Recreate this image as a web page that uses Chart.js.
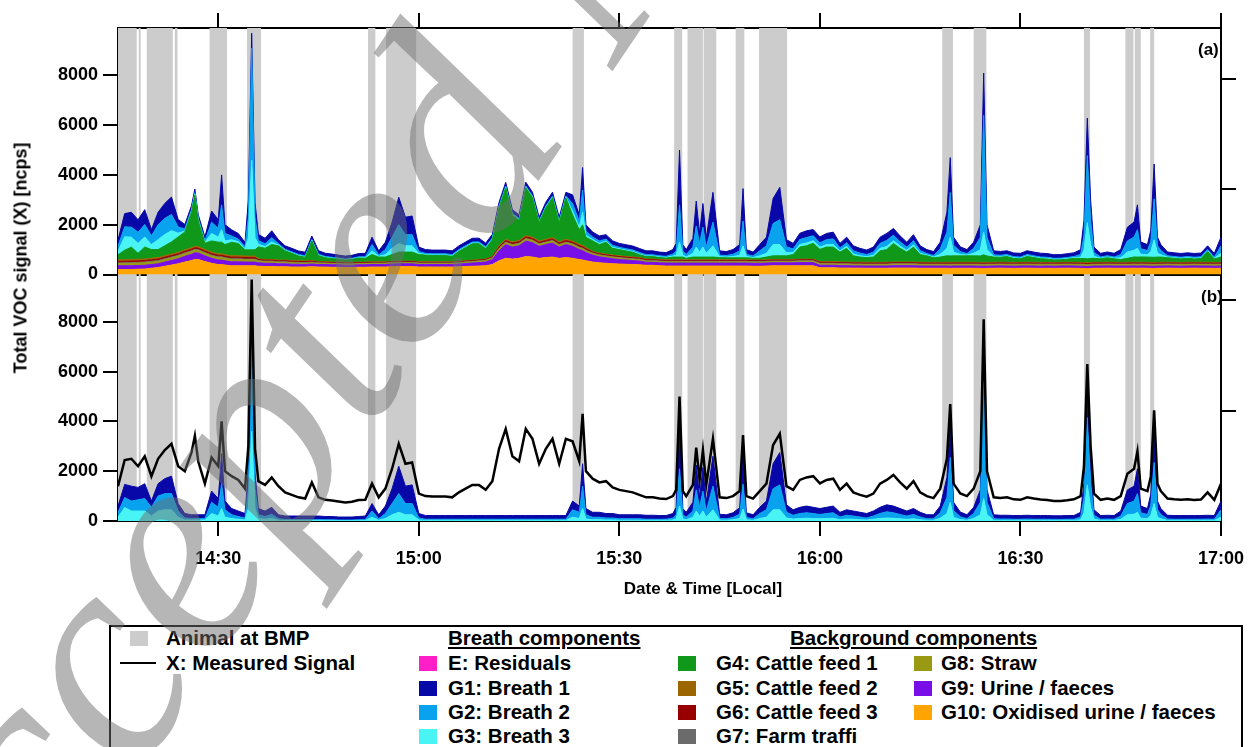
<!DOCTYPE html>
<html>
<head>
<meta charset="utf-8">
<title>Total VOC signal – breath and background components</title>
<script src="https://cdn.jsdelivr.net/npm/chart.js"></script>
<style>
  html, body { margin: 0; padding: 0; background: #fff; }
  body {
    position: relative; width: 1256px; height: 747px; overflow: hidden;
    font-family: "Liberation Sans", Arial, Helvetica, sans-serif; font-weight: bold; color: #000;
  }
  #plot { position: absolute; left: 0; top: 0; }
  .txt { position: absolute; white-space: nowrap; }
  #ytitle { left: 21px; top: 258px; font-size: 18px; transform: translate(-50%, -50%) rotate(-90deg); }
  #xtitle { left: 703px; top: 589px; font-size: 17px; transform: translate(-50%, -50%); }
  .tag { font-size: 17px; line-height: 17px; }
  #legend { position: absolute; left: 109px; top: 625px; width: 1134px; height: 170px; border: 2px solid #000; box-sizing: border-box; }
  .lg { position: absolute; font-size: 20.5px; line-height: 24px; white-space: nowrap; }
  .head { text-decoration: underline; }
  .sw { position: absolute; width: 18px; height: 15px; }
  #mark {
    position: absolute; left: -42px; top: 1042px; transform-origin: 0 0;
    transform: rotate(-56deg) translateY(-0.8375em);
    font: italic 300px "Liberation Serif", "Times New Roman", serif; line-height: 1;
    color: rgba(110, 110, 110, 0.5); white-space: nowrap; pointer-events: none;
  }
</style>
</head>
<body>
<canvas id="plot" width="1256" height="600"></canvas>

<div class="txt" id="ytitle">Total VOC signal (X) [ncps]</div>
<div class="txt" id="xtitle">Date &amp; Time [Local]</div>
<div class="txt tag" style="left:1198px;top:41px">(a)</div>
<div class="txt tag" style="left:1201px;top:288px">(b)</div>

<div id="legend"></div>
<div class="sw" id="bmpSwatch" style="left:130px;top:631px"></div>
<div class="lg" style="left:166px;top:626px">Animal at BMP</div>
<div class="sw" style="left:120px;top:662px;width:36px;height:2px;background:#000"></div>
<div class="lg" style="left:166px;top:651px">X: Measured Signal</div>

<div class="lg head" style="left:448px;top:626px">Breath components</div>
<div class="sw" data-c="E" style="left:419px;top:656px"></div>
<div class="lg" style="left:448px;top:651px">E: Residuals</div>
<div class="sw" data-c="G1" style="left:419px;top:681px"></div>
<div class="lg" style="left:448px;top:676px">G1: Breath 1</div>
<div class="sw" data-c="G2" style="left:419px;top:705px"></div>
<div class="lg" style="left:448px;top:700px">G2: Breath 2</div>
<div class="sw" data-c="G3" style="left:419px;top:729px"></div>
<div class="lg" style="left:448px;top:724px">G3: Breath 3</div>

<div class="lg head" style="left:790px;top:626px">Background components</div>
<div class="sw" data-c="G4" style="left:678px;top:656px"></div>
<div class="lg" style="left:716px;top:651px">G4: Cattle feed 1</div>
<div class="sw" data-c="G5" style="left:678px;top:681px"></div>
<div class="lg" style="left:716px;top:676px">G5: Cattle feed 2</div>
<div class="sw" data-c="G6" style="left:678px;top:705px"></div>
<div class="lg" style="left:716px;top:700px">G6: Cattle feed 3</div>
<div class="sw" data-c="G7" style="left:678px;top:729px"></div>
<div class="lg" style="left:716px;top:724px">G7: Farm traffi</div>
<div class="sw" data-c="G8" style="left:914px;top:656px"></div>
<div class="lg" style="left:941px;top:651px">G8: Straw</div>
<div class="sw" data-c="G9" style="left:914px;top:681px"></div>
<div class="lg" style="left:941px;top:676px">G9: Urine / faeces</div>
<div class="sw" data-c="G10" style="left:914px;top:705px"></div>
<div class="lg" style="left:941px;top:700px">G10: Oxidised urine / faeces</div>

<div id="mark">Accepted Manuscript</div>

<script>
// sample times, minutes after 14:15 local
const elapsed = [
  0, 1, 2, 3, 4, 5, 6, 7, 8, 9, 10, 11, 11.5, 12, 13, 14, 15, 15.5, 16, 17, 18, 19, 19.5, 20, 20.5,
  21, 22, 23, 24, 25, 26, 27, 28, 29,
  30, 31, 32, 33, 34, 35, 36, 37, 38, 39, 40, 41, 42, 43, 44, 45, 46, 47, 48, 49, 50, 51, 52, 53, 54, 55, 56,
  57, 58, 59, 60, 61, 62, 63, 64, 65, 66, 67, 68, 69, 69.5,
  70, 71, 72, 73, 74, 75, 76, 77, 78,
  79, 80, 81, 82, 83, 83.5, 84, 84.5, 85, 86, 86.5, 87, 87.5, 88, 89,
  90, 91, 92, 93, 93.5, 94, 95, 96, 97, 98, 99, 100, 101,
  102, 103, 104,
  105, 106, 107, 108, 109, 110, 111, 112, 113, 114, 115, 116, 117, 118, 119, 120, 121, 122, 123, 124,
  124.5, 125, 126, 127, 128, 129, 129.5,
  130, 131, 132, 133, 134, 135, 136, 137, 138, 139, 140, 141, 142, 143, 144,
  144.5, 145, 145.5, 146, 147, 148, 149, 150, 151, 152, 152.5, 153, 154, 154.5, 155, 155.5,
  156, 157, 158, 159, 160, 161, 162, 163, 164, 165
];

// X: measured total signal [ncps]
const measured = [
  1400, 2450, 2500, 2200, 2600, 1800, 2500, 2850, 3100, 2200, 2000, 2750, 3420, 2400, 1500, 2550, 2200, 4000, 2000, 1800, 1650, 1300, 3000, 9700, 2900,
  1600, 1450, 1750, 1400, 1150, 1050, 950, 900, 1550,
  950, 850, 820, 780, 740, 770, 840, 850, 1500, 950, 1300, 2100, 3100, 2300, 2350, 1100, 1000, 980, 980, 980, 950, 1150, 1300, 1450, 1450, 1250, 1600,
  2900, 3700, 2600, 2400, 3700, 3300, 2300, 2900, 3300, 2300, 3300, 3200, 2400, 4300,
  2000, 1700, 1550, 1600, 1350, 1250, 1200, 1150, 1050,
  950, 950, 900, 880, 1000, 1250, 5000, 1200, 1000, 1450, 2950, 1650, 2850, 1450, 3300,
  950, 920, 1000, 1200, 3450, 1000, 900, 1200, 1500, 3050, 3500, 1400, 1250,
  1650, 1750, 1800,
  1510, 1650, 1700, 1250, 1500, 1150, 1050, 980, 1100, 1500, 1650, 1850, 1550, 1300, 1600, 1150, 1000, 920, 1300, 2500,
  4700, 1500, 1110, 1000, 1300, 2000, 8100,
  2000, 950, 920, 950, 870, 850, 950, 900, 860, 840, 800, 800, 830, 870, 1000,
  2180, 6300, 3000, 1100, 850, 900, 850, 1000, 1900, 2100, 2800, 1300, 1200, 1780, 4450, 1500,
  1200, 900, 870, 850, 870, 840, 860, 1150, 850, 1500
];

// breath components
const breath1 = [
  250, 530, 600, 500, 600, 250, 500, 600, 700, 300, 180, 150, 150, 150, 150, 450, 350, 1200, 350, 250, 220, 180, 700, 600, 600,
  250, 220, 280, 160, 140, 140, 140, 140, 140,
  140, 130, 130, 120, 120, 120, 130, 140, 300, 160, 300, 600, 1100, 700, 750, 180, 150, 150, 150, 150, 150, 150, 150, 150, 150, 150, 150,
  150, 150, 150, 150, 150, 150, 150, 150, 150, 150, 150, 350, 250, 900,
  250, 200, 200, 180, 180, 160, 160, 160, 160,
  160, 160, 150, 150, 180, 300, 2200, 250, 200, 350, 1000, 400, 950, 350, 1200,
  170, 160, 190, 250, 1300, 190, 160, 250, 350, 1000, 1300, 300, 220,
  250, 270, 250,
  240, 250, 270, 190, 220, 200, 190, 180, 200, 250, 280, 270, 240, 200, 240, 190, 160, 160, 270, 800,
  1400, 330, 190, 160, 250, 500, 1700,
  500, 160, 150, 150, 150, 150, 150, 150, 150, 150, 145, 145, 150, 150, 190,
  600, 1500, 800, 220, 150, 150, 150, 200, 550, 600, 1000, 270, 240, 450, 1400, 350,
  240, 150, 150, 150, 150, 150, 150, 150, 150, 350
];
const breath2 = [
  200, 400, 400, 450, 500, 350, 600, 650, 650, 250, 80, 60, 60, 60, 60, 450, 350, 1000, 300, 150, 110, 80, 800, 4500, 800,
  150, 110, 170, 60, 40, 40, 40, 40, 40,
  40, 35, 35, 25, 25, 25, 35, 40, 250, 60, 200, 450, 750, 450, 450, 80, 45, 45, 45, 45, 45, 45, 45, 45, 45, 45, 45,
  45, 45, 45, 45, 45, 45, 45, 45, 45, 45, 45, 300, 250, 900,
  170, 100, 100, 80, 80, 60, 60, 60, 60,
  45, 45, 45, 45, 80, 170, 1500, 170, 100, 250, 850, 350, 800, 250, 950,
  65, 60, 90, 180, 1000, 90, 60, 200, 300, 850, 1000, 230, 150,
  200, 220, 200,
  170, 200, 220, 110, 150, 130, 110, 80, 130, 200, 250, 220, 170, 130, 170, 110, 60, 60, 220, 650,
  1800, 280, 110, 60, 200, 500, 4700,
  500, 60, 55, 55, 45, 45, 55, 45, 45, 45, 42, 42, 45, 45, 110,
  600, 2700, 1000, 150, 45, 55, 45, 130, 450, 530, 750, 220, 170, 400, 1650, 300,
  170, 55, 45, 45, 45, 45, 45, 55, 45, 300
];
const breath3 = [
  150, 540, 400, 400, 400, 200, 400, 450, 450, 150, 40, 40, 40, 40, 40, 300, 200, 500, 150, 100, 70, 40, 500, 3600, 500,
  100, 70, 100, 30, 20, 20, 20, 20, 20,
  20, 15, 15, 15, 15, 15, 15, 20, 150, 30, 100, 250, 350, 250, 250, 40, 25, 25, 25, 25, 25, 25, 25, 25, 25, 25, 25,
  25, 25, 25, 25, 25, 25, 25, 25, 25, 25, 25, 150, 100, 500,
  80, 50, 50, 40, 40, 30, 30, 30, 30,
  25, 25, 25, 25, 40, 80, 600, 80, 50, 150, 400, 200, 400, 150, 450,
  35, 30, 50, 100, 480, 50, 30, 100, 150, 450, 450, 120, 80,
  100, 110, 100,
  90, 100, 110, 50, 80, 70, 50, 40, 70, 100, 120, 110, 90, 70, 90, 50, 30, 30, 110, 300,
  750, 140, 60, 30, 100, 250, 900,
  250, 30, 25, 25, 25, 25, 25, 25, 25, 25, 23, 23, 25, 25, 50,
  330, 1450, 550, 80, 25, 25, 25, 70, 250, 270, 350, 110, 90, 230, 700, 150,
  90, 25, 25, 25, 25, 25, 25, 25, 25, 150
];

// background components
const feed1 = [
  200, 380, 500, 240, 480, 350, 320, 400, 490, 620, 720, 1440, 2050, 1040, 250, 450, 470, 470, 400, 540, 490, 250, 250, 250, 250,
  480, 450, 600, 570, 370, 290, 190, 150, 780,
  240, 160, 140, 120, 100, 130, 160, 150, 290, 190, 190, 270, 360, 360, 360, 290, 270, 250, 250, 250, 220, 400, 530, 660, 640, 420, 670,
  1515, 2065, 1065, 815, 1925, 1585, 735, 1265, 1605, 765, 1665, 1055, 585, 825,
  420, 420, 340, 480, 270, 250, 220, 190, 110,
  100, 100, 80, 70, 110, 110, 110, 110, 60, 110, 110, 110, 110, 110, 110,
  90, 80, 80, 80, 80, 80, 70, 70, 110, 150, 150, 150, 200,
  490, 540, 640,
  490, 580, 580, 395, 545, 255, 205, 190, 210, 460, 510, 745, 545, 395, 595, 310, 260, 180, 210, 260,
  260, 260, 260, 260, 260, 260, 310,
  260, 210, 200, 230, 160, 140, 230, 190, 150, 130, 100, 100, 120, 160, 160,
  160, 160, 160, 160, 140, 180, 140, 110, 160, 210, 210, 210, 210, 210, 210, 210,
  210, 180, 160, 140, 160, 130, 150, 430, 140, 210
];
const feed2 = [
  60, 60, 60, 60, 60, 60, 60, 60, 60, 60, 60, 60, 60, 60, 60, 60, 60, 60, 60, 60, 60, 60, 60, 60, 60,
  30, 30, 30, 30, 30, 30, 30, 30, 30,
  20, 20, 20, 20, 20, 20, 20, 20, 20, 20, 20, 20, 20, 20, 20, 20, 20, 20, 20, 20, 20, 20, 20, 20, 20, 20, 20,
  50, 50, 50, 50, 50, 50, 50, 50, 50, 50, 50, 50, 50, 50,
  45, 30, 30, 30, 30, 30, 30, 30, 30,
  25, 25, 25, 25, 25, 25, 25, 25, 25, 25, 25, 25, 25, 25, 25,
  25, 25, 25, 25, 25, 25, 25, 25, 25, 25, 25, 25, 25,
  25, 25, 25,
  30, 30, 30, 30, 30, 30, 30, 30, 30, 30, 30, 30, 30, 30, 30, 30, 30, 30, 30, 30,
  30, 30, 30, 30, 30, 30, 30,
  30, 30, 30, 30, 30, 30, 30, 30, 30, 30, 30, 30, 30, 30, 30,
  30, 30, 30, 30, 30, 30, 30, 30, 30, 30, 30, 30, 30, 30, 30, 30,
  30, 30, 30, 30, 30, 30, 30, 30, 30, 30
];
const feed3 = [
  60, 60, 60, 60, 60, 60, 60, 60, 60, 60, 60, 60, 60, 60, 60, 60, 60, 60, 60, 60, 60, 60, 60, 60, 60,
  40, 40, 40, 40, 40, 40, 40, 40, 40,
  30, 30, 30, 30, 30, 30, 30, 30, 30, 30, 30, 30, 30, 30, 30, 30, 30, 30, 30, 30, 30, 30, 30, 30, 30, 30, 30,
  60, 60, 60, 60, 60, 60, 60, 60, 60, 60, 60, 60, 60, 60,
  55, 40, 40, 40, 40, 40, 40, 40, 40,
  35, 35, 35, 35, 35, 35, 35, 35, 35, 35, 35, 35, 35, 35, 35,
  35, 35, 35, 35, 35, 35, 35, 35, 35, 35, 35, 35, 35,
  35, 35, 35,
  40, 40, 40, 40, 40, 40, 40, 40, 40, 40, 40, 40, 40, 40, 40, 40, 40, 40, 40, 40,
  40, 40, 40, 40, 40, 40, 40,
  40, 40, 40, 40, 40, 40, 40, 40, 40, 40, 40, 40, 40, 40, 40,
  40, 40, 40, 40, 40, 40, 40, 40, 40, 40, 40, 40, 40, 40, 40, 40,
  40, 40, 40, 40, 40, 40, 40, 40, 40, 40
];
const traffic = [
  30, 30, 30, 30, 30, 30, 30, 30, 30, 30, 30, 30, 30, 30, 30, 30, 30, 30, 30, 30, 30, 30, 30, 30, 30,
  20, 20, 20, 20, 20, 20, 20, 20, 20,
  15, 15, 15, 15, 15, 15, 15, 15, 15, 15, 15, 15, 15, 15, 15, 15, 15, 15, 15, 15, 15, 15, 15, 15, 15, 15, 15,
  25, 25, 25, 25, 25, 25, 25, 25, 25, 25, 25, 25, 25, 25,
  25, 20, 20, 20, 20, 20, 20, 20, 20,
  20, 20, 20, 20, 20, 20, 20, 20, 20, 20, 20, 20, 20, 20, 20,
  20, 20, 20, 20, 20, 20, 20, 20, 20, 20, 20, 20, 20,
  20, 20, 20,
  20, 20, 20, 20, 20, 20, 20, 20, 20, 20, 20, 20, 20, 20, 20, 20, 20, 20, 20, 20,
  20, 20, 20, 20, 20, 20, 20,
  20, 20, 20, 20, 20, 20, 20, 20, 20, 20, 20, 20, 20, 20, 20,
  20, 20, 20, 20, 20, 20, 20, 20, 20, 20, 20, 20, 20, 20, 20, 20,
  20, 20, 20, 20, 20, 20, 20, 20, 20, 20
];
const straw = [
  90, 95, 100, 100, 105, 100, 100, 105, 110, 110, 110, 115, 115, 110, 105, 100, 100, 100, 100, 95, 95, 90, 90, 90, 90,
  70, 65, 65, 60, 60, 60, 55, 55, 55,
  50, 50, 45, 45, 45, 45, 45, 45, 45, 45, 45, 45, 45, 45, 45, 45, 45, 45, 45, 45, 45, 45, 50, 50, 55, 55, 60,
  75, 80, 80, 80, 85, 85, 80, 80, 85, 80, 80, 80, 75, 75,
  70, 65, 60, 60, 60, 60, 55, 55, 55,
  50, 50, 50, 50, 50, 50, 50, 50, 50, 50, 50, 50, 50, 50, 50,
  50, 50, 50, 50, 50, 50, 50, 50, 50, 50, 50, 50, 50,
  55, 55, 55,
  60, 60, 60, 60, 60, 60, 60, 60, 60, 60, 60, 60, 60, 60, 60, 60, 60, 60, 60, 60,
  60, 60, 60, 60, 60, 60, 60,
  60, 60, 60, 60, 60, 60, 60, 60, 60, 60, 60, 60, 60, 60, 60,
  60, 60, 60, 60, 60, 60, 60, 60, 60, 60, 60, 60, 60, 60, 60, 60,
  60, 60, 60, 60, 60, 60, 60, 60, 60, 60
];
const urine = [
  150, 150, 150, 150, 150, 150, 150, 170, 180, 200, 230, 250, 270, 260, 230, 200, 180, 180, 170, 160, 160, 150, 150, 150, 150,
  140, 130, 130, 120, 120, 110, 110, 100, 110,
  100, 100, 100, 100, 90, 90, 100, 100, 100, 100, 100, 110, 110, 110, 110, 100, 100, 100, 100, 100, 100, 110, 120, 130, 140, 150, 200,
  400, 550, 480, 500, 620, 580, 480, 520, 560, 450, 520, 480, 400, 380,
  330, 280, 240, 220, 200, 180, 170, 160, 150,
  120, 120, 120, 120, 120, 120, 120, 120, 120, 120, 120, 120, 120, 120, 120,
  120, 120, 120, 120, 120, 120, 120, 120, 120, 120, 120, 120, 120,
  130, 130, 130,
  100, 100, 100, 95, 95, 90, 90, 90, 90, 90, 90, 95, 95, 95, 95, 90, 90, 90, 90, 90,
  90, 90, 90, 90, 90, 90, 90,
  90, 90, 90, 90, 90, 90, 90, 90, 90, 90, 90, 90, 90, 90, 90,
  90, 90, 90, 90, 90, 90, 90, 90, 90, 90, 90, 90, 90, 90, 90, 90,
  90, 90, 90, 90, 90, 90, 90, 90, 90, 90
];
const oxUrine = [
  200, 200, 200, 210, 220, 250, 280, 330, 380, 430, 500, 560, 600, 600, 520, 450, 400, 400, 380, 350, 350, 350, 350, 350, 350,
  330, 320, 320, 310, 310, 300, 300, 300, 310,
  300, 300, 290, 290, 280, 280, 290, 290, 300, 300, 300, 310, 320, 320, 320, 300, 300, 300, 300, 300, 300, 310, 320, 330, 340, 350, 400,
  550, 650, 620, 650, 720, 700, 650, 680, 700, 650, 680, 650, 600, 580,
  550, 500, 470, 450, 430, 420, 410, 400, 390,
  370, 370, 350, 340, 340, 340, 340, 340, 340, 340, 340, 340, 340, 340, 340,
  340, 340, 340, 340, 340, 340, 330, 330, 340, 350, 350, 350, 350,
  350, 350, 350,
  270, 270, 270, 260, 260, 255, 255, 250, 250, 250, 250, 260, 260, 260, 260, 250, 250, 250, 250, 250,
  245, 250, 250, 250, 250, 245, 240,
  245, 250, 255, 250, 245, 250, 255, 250, 245, 250, 245, 250, 255, 250, 245,
  240, 230, 240, 250, 250, 255, 250, 250, 250, 255, 250, 255, 250, 245, 240, 250,
  250, 255, 250, 245, 250, 255, 250, 250, 245, 250
];

// periods with an animal at the breath monitoring point (minutes after 14:15)
const bmpPeriods = [
  [0, 2.8], [3.1, 3.4], [4.3, 8.2], [8.5, 8.9], [13.7, 16.3], [19.3, 21.4],
  [37.4, 38.5], [40.1, 44.6], [68.0, 69.7], [83.2, 84.4], [85.2, 87.5], [87.6, 89.5],
  [92.4, 93.7], [95.9, 100.1], [123.3, 124.9], [128.0, 129.9], [144.5, 145.4],
  [150.7, 151.9], [152.1, 153.0], [154.4, 155.0]
];

const tickMinutes = [15, 45, 75, 105, 135, 165];
const tickLabels = ['14:30', '15:00', '15:30', '16:00', '16:30', '17:00'];
const signalTicks = [0, 2000, 4000, 6000, 8000];
const rightTicks = [1, 2];

const COLORS = {
  E: '#ff1fc8', G1: '#0808a8', G2: '#08a2ee', G3: '#48f4f4', G4: '#10981a', G5: '#9b6600',
  G6: '#980000', G7: '#6b6b6b', G8: '#999914', G9: '#780ee8', G10: '#ffa400'
};
const BAND = '#cccccc';
const FONT = '"Liberation Sans", Arial, Helvetica, sans-serif';

document.querySelectorAll('.sw[data-c]').forEach(el => { el.style.background = COLORS[el.dataset.c]; });
document.getElementById('bmpSwatch').style.background = BAND;

function area(values, key, axis, fill) {
  return {
    label: key, data: values, yAxisID: axis, stack: axis, fill,
    backgroundColor: COLORS[key], borderColor: COLORS[key], borderWidth: 1,
    pointRadius: 0, pointHoverRadius: 0, tension: 0
  };
}

const datasets = [
  // (a) all components, background at the bottom
  area(oxUrine, 'G10', 'ya', 'origin'),
  area(urine, 'G9', 'ya', '-1'),
  area(straw, 'G8', 'ya', '-1'),
  area(traffic, 'G7', 'ya', '-1'),
  area(feed3, 'G6', 'ya', '-1'),
  area(feed2, 'G5', 'ya', '-1'),
  area(feed1, 'G4', 'ya', '-1'),
  area(breath3, 'G3', 'ya', '-1'),
  area(breath2, 'G2', 'ya', '-1'),
  area(breath1, 'G1', 'ya', '-1'),
  // (b) breath components only
  area(breath3, 'G3', 'yb', 'origin'),
  area(breath2, 'G2', 'yb', '-1'),
  area(breath1, 'G1', 'yb', '-1'),
  {
    label: 'X', data: measured, yAxisID: 'yb', stack: 'signal', fill: false, order: -1,
    borderColor: '#000', borderWidth: 2.5, pointRadius: 0, pointHoverRadius: 0, tension: 0
  }
];

const tickFont = { family: FONT, size: 18, weight: 'bold' };
const edge = { color: '#000', width: 2 };

function yPanel(weight) {
  return {
    type: 'linear', position: 'left', stack: 'left', stackWeight: 1, weight, z: 1,
    stacked: true, min: 0, max: 9900,
    border: edge,
    grid: {
      drawOnChartArea: true, lineWidth: 2, tickLength: 15, tickColor: '#000', tickWidth: 2,
      color: c => (c.tick && c.tick.value === 0 ? '#000' : 'rgba(0,0,0,0)')
    },
    ticks: { color: '#000', font: tickFont, padding: 5, callback: v => String(v) },
    afterBuildTicks: s => { s.ticks = signalTicks.map(v => ({ value: v })); },
    afterFit: s => { s.width = 118; }
  };
}

function rPanel(weight, min, max) {
  return {
    type: 'linear', position: 'right', stack: 'right', stackWeight: 1, weight, z: 1, min, max,
    border: edge,
    grid: { drawOnChartArea: false, color: '#000', lineWidth: 2, tickLength: 15 },
    ticks: { callback: () => '' },
    afterBuildTicks: s => { s.ticks = rightTicks.map(v => ({ value: v })); },
    afterFit: s => { s.width = 28; }
  };
}

function xAxis(position, labels, height) {
  return {
    type: 'linear', position, min: 0, max: 165, z: 1,
    border: edge,
    grid: { drawOnChartArea: false, color: '#000', lineWidth: 2, tickLength: 15 },
    ticks: {
      color: '#000', font: tickFont, padding: 12, maxRotation: 0, autoSkip: false,
      callback: (v, i) => (labels ? tickLabels[i] : '')
    },
    afterBuildTicks: s => { s.ticks = tickMinutes.map(v => ({ value: v })); },
    afterFit: s => { s.height = height; }
  };
}

const bmpShading = {
  id: 'bmpShading',
  beforeDatasetsDraw(chart) {
    const { ctx, chartArea, scales } = chart;
    ctx.save();
    ctx.fillStyle = BAND;
    bmpPeriods.forEach(([a, b]) => {
      const x0 = scales.x.getPixelForValue(a);
      const x1 = scales.x.getPixelForValue(b);
      ctx.fillRect(x0, chartArea.top, x1 - x0, chartArea.bottom - chartArea.top);
    });
    ctx.restore();
  }
};

new Chart(document.getElementById('plot').getContext('2d'), {
  type: 'line',
  data: { labels: elapsed, datasets },
  options: {
    responsive: false,
    animation: false,
    devicePixelRatio: 1,
    events: [],
    layout: { padding: 0, autoPadding: false },
    plugins: { legend: { display: false }, tooltip: { enabled: false } },
    scales: {
      x: xAxis('bottom', true, 79),
      xt: xAxis('top', false, 28),
      ya: yPanel(2),
      yb: yPanel(1),
      ra: rPanel(1, 0.227, 2.464),
      rb: rPanel(2, 0, 2.235)
    }
  },
  plugins: [bmpShading]
});
</script>
</body>
</html>
